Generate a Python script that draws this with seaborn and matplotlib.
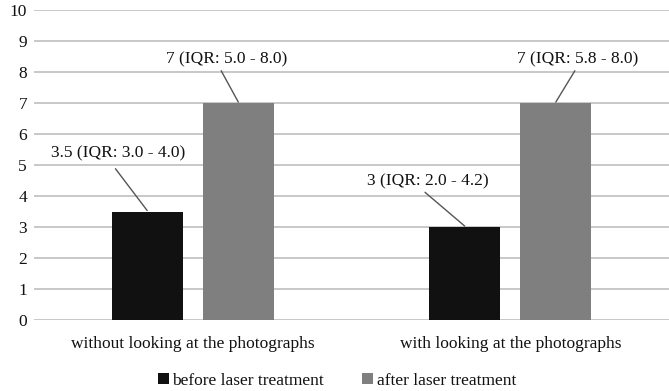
import matplotlib
matplotlib.use("Agg")
import matplotlib.pyplot as plt
import seaborn as sns
import pandas as pd

categories = ["without looking at the photographs", "with looking at the photographs"]
series = ["before laser treatment", "after laser treatment"]
before_values = [3.5, 3.0]
after_values = [7.0, 7.0]
labels_before = ["3.5 (IQR: 3.0 - 4.0)", "3 (IQR: 2.0 - 4.2)"]
labels_after = ["7 (IQR: 5.0 - 8.0)", "7 (IQR: 5.8 - 8.0)"]
yticks = list(range(0, 11))

df = pd.DataFrame({
    "category": categories * 2,
    "series": [series[0]] * 2 + [series[1]] * 2,
    "value": before_values + after_values,
})

sns.set_theme(style="white")
plt.rcParams["font.family"] = ["Liberation Serif", "DejaVu Serif"]
FS = 12.5

fig = plt.figure(figsize=(6.69, 3.91), dpi=100)
ax = fig.add_axes([34 / 669, 71 / 391, 635 / 669, 310 / 391])

sns.barplot(data=df, x="category", y="value", hue="series", order=categories,
            hue_order=series, palette=["#111111", "#7f7f7f"], width=0.574, gap=0.22,
            ax=ax, legend=True, zorder=3, edgecolor="none")

ax.set_ylim(0, 10)
ax.set_xlim(-0.5, 1.5)
ax.set_yticks(yticks)
ax.set_yticklabels([str(t) for t in yticks], fontsize=FS)
ax.grid(axis="y", color="#c4c4c4", linewidth=1.3, zorder=0)
ax.grid(axis="x", visible=False)
for s in ax.spines.values():
    s.set_visible(False)
ax.tick_params(axis="y", length=0, pad=5, labelcolor="#111111")
ax.tick_params(axis="x", length=0, labelsize=FS, pad=11.5, labelcolor="#111111")
ax.set_xlabel("")
ax.set_ylabel("")

# annotations with leader lines, anchored on bar tops
bars = [p for p in ax.patches if p.get_height() > 0]
bars_before = sorted(bars[:2], key=lambda p: p.get_x())
bars_after = sorted(bars[2:4], key=lambda p: p.get_x())
# (text dx, text dy, line start dx, line start dy) relative to bar center/top
offsets_before = [(-0.093, 1.86, -0.10, 1.38), (-0.116, 1.46, -0.125, 1.12)]
offsets_after = [(-0.036, 1.42, -0.054, 1.04), (0.069, 1.42, 0.06, 1.04)]
for bar_list, labs, offs in [(bars_before, labels_before, offsets_before),
                             (bars_after, labels_after, offsets_after)]:
    for p, lab, (tdx, tdy, ldx, ldy) in zip(bar_list, labs, offs):
        cx = p.get_x() + p.get_width() / 2
        top = p.get_height()
        ax.plot([cx + ldx, cx], [top + ldy, top + 0.03], color="#555555",
                linewidth=1.0, zorder=4, clip_on=False)
        ax.text(cx + tdx, top + tdy, lab, ha="center", va="center", fontsize=FS,
                color="#111111", zorder=5)

handles, hlabels = ax.get_legend_handles_labels()
ax.legend_.remove()
fig.legend(handles, hlabels, loc="center", bbox_to_anchor=(0.504, 0.026), ncol=2,
           frameon=False, fontsize=FS, handlelength=0.62, handleheight=0.62,
           handletextpad=0.2, columnspacing=2.2, labelcolor="#111111")

fig.savefig("out.png", dpi=100)
